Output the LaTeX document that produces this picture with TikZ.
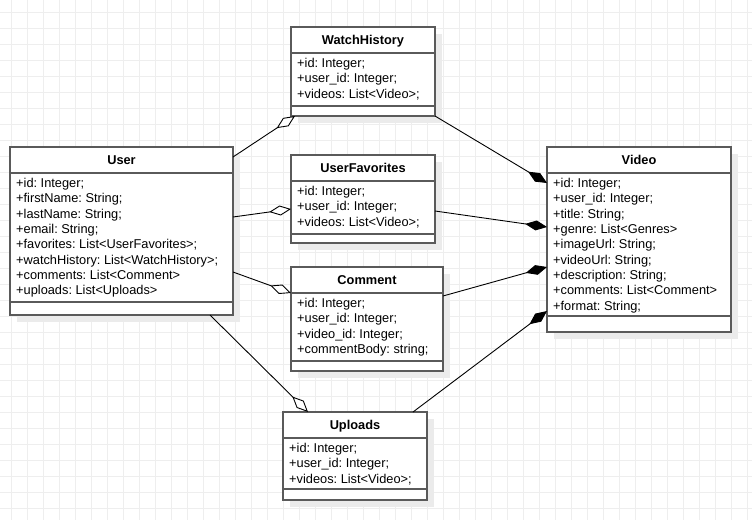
\documentclass[tikz,border=0pt]{standalone}
\usepackage{fontspec}
\setmainfont{Liberation Sans}
\usetikzlibrary{arrows.meta,shadows}
\definecolor{gridc}{HTML}{EEEEEE}
\definecolor{boxc}{HTML}{5A5A5A}
\definecolor{shadowc}{HTML}{EBEBEB}
\frenchspacing

\tikzset{
  classbox/.style={draw=boxc, line width=1.5pt, fill=white, inner sep=0pt, outer sep=0pt,
    anchor=north west,
    drop shadow={shadow xshift=7pt, shadow yshift=-7pt, fill=shadowc, draw=none, opacity=1}},
  divider/.style={draw=boxc, line width=1.5pt},
  classtitle/.style={anchor=base, inner sep=0pt, font=\fontsize{12.8}{15.3}\selectfont\bfseries},
  classrow/.style={anchor=base west, inner sep=0pt, font=\fontsize{12.8}{15.3}\selectfont},
  aggr/.style={draw=black, line width=0.9pt, -{Diamond[open, fill=white, length=22pt, width=10pt, line width=0.9pt]}},
  comp/.style={draw=black, line width=0.9pt, -{Diamond[length=22pt, width=10pt]}},
}

% #1 name, #2 x, #3 y (top left), #4 width, #5 height, #6 title, #7 attributes, #8 offset of the lower divider
\newcommand\umlclass[8]{%
  \node[classbox, minimum width=#4pt, minimum height=#5pt] (#1) at (#2,#3) {};
  \draw[divider] ([yshift=-26pt]#1.north west) -- ([yshift=-26pt]#1.north east);
  \draw[divider] ([yshift=-#8pt]#1.north west) -- ([yshift=-#8pt]#1.north east);
  \node[classtitle] (#1-title) at ([yshift=-17.6pt]#1.north) {#6};
  \foreach \rowtext [count=\i] in {#7} {
    \node[classrow] (#1-row\i) at ([xshift=6pt, yshift={-40.6pt-(\i-1)*15.3pt}]#1.north west) {\rowtext};
  }%
}

\begin{document}
\begin{tikzpicture}[x=1pt, y=-1pt]
  \useasboundingbox (0,0) rectangle (752,520);
  \fill[white] (0,0) rectangle (752,520);

  % background grid
  \foreach \gx in {11.3,27.3,...,752} \draw[gridc, line width=0.8pt] (\gx,0) -- (\gx,520);
  \foreach \gy in {12.3,28.3,...,520} \draw[gridc, line width=0.8pt] (0,\gy) -- (752,\gy);

  % classes
  \umlclass{user}{10}{147}{223}{168}{User}{%
    +id: Integer;, +firstName: String;, +lastName: String;, +email: String;,
    +favorites: List<UserFavorites>;, +watchHistory: List<WatchHistory>;,
    +comments: List<Comment>, +uploads: List<Uploads>}{155}

  \umlclass{wh}{291}{27}{144}{89}{WatchHistory}{%
    +id: Integer;, +user\_id: Integer;, +videos: List<Video>;}{79}

  \umlclass{fav}{291}{155}{144}{88}{UserFavorites}{%
    +id: Integer;, +user\_id: Integer;, +videos: List<Video>;}{79}

  \umlclass{com}{291}{267}{152}{104}{Comment}{%
    +id: Integer;, +user\_id: Integer;, +video\_id: Integer;, +commentBody: string;}{94}

  \umlclass{video}{547}{147}{184}{185}{Video}{%
    +id: Integer;, +user\_id: Integer;, +title: String;, +genre: List<Genres>,
    +imageUrl: String;, +videoUrl: String;, +description: String;,
    +comments: List<Comment>, +format: String;}{169}

  \umlclass{up}{283}{412}{144}{88}{Uploads}{%
    +id: Integer;, +user\_id: Integer;, +videos: List<Video>;}{77}

  % aggregations from User
  \draw[aggr] ([yshift=-10pt]user.north east) -- ([xshift=4pt]wh.south west);
  \draw[aggr] ([yshift=-70pt]user.north east) -- ([yshift=-54pt]fav.north west);
  \draw[aggr] ([yshift=-125pt]user.north east) -- ([yshift=-26pt]com.north west);
  \draw[aggr] ([xshift=200pt]user.south west) -- ([xshift=25pt]up.north west);

  % compositions into Video
  \draw[comp] (wh.south east) -- ([yshift=-36pt]video.north west);
  \draw[comp] ([yshift=-56pt]fav.north east) -- ([yshift=-80pt]video.north west);
  \draw[comp] ([yshift=-29pt]com.north east) -- ([yshift=-120pt]video.north west);
  \draw[comp] ([xshift=-14pt]up.north east) -- ([yshift=-164pt]video.north west);
\end{tikzpicture}
\end{document}
